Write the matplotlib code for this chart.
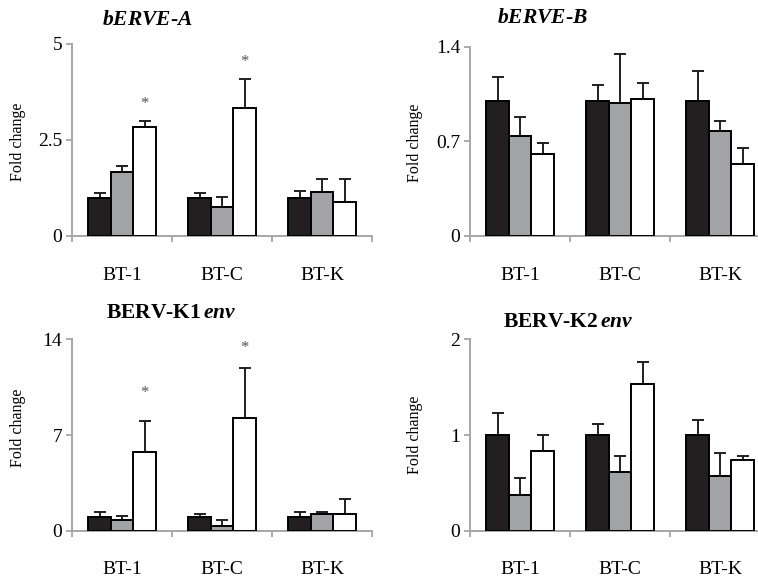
import numpy as np
import matplotlib
matplotlib.use("Agg")
import matplotlib.pyplot as plt

plt.rcParams['font.family'] = ['Liberation Serif', 'DejaVu Serif']
plt.rcParams['mathtext.fontset'] = 'custom'
plt.rcParams['mathtext.it'] = 'Liberation Serif:italic:bold'
plt.rcParams['mathtext.rm'] = 'Liberation Serif:bold'

categories = ["BT-1", "BT-C", "BT-K"]

# fold change per panel: rows = series (black, gray, white), cols = categories
erve_a = [[1.0, 1.0, 1.0], [1.66, 0.75, 1.15], [2.83, 3.34, 0.88]]
erve_a_err = [[0.13, 0.12, 0.18], [0.17, 0.27, 0.33], [0.16, 0.75, 0.60]]
erve_b = [[1.0, 1.0, 1.0], [0.737, 0.986, 0.777], [0.604, 1.011, 0.535]]
erve_b_err = [[0.176, 0.12, 0.22], [0.141, 0.362, 0.074], [0.082, 0.118, 0.118]]
k1 = [[1.0, 1.0, 1.0], [0.78, 0.34, 1.2], [5.76, 8.27, 1.22]]
k1_err = [[0.37, 0.22, 0.37], [0.32, 0.42, 0.14], [2.26, 3.61, 1.12]]
k2 = [[1.0, 1.0, 1.0], [0.373, 0.617, 0.572], [0.836, 1.537, 0.739]]
k2_err = [[0.227, 0.12, 0.157], [0.181, 0.167, 0.237], [0.161, 0.23, 0.039]]

# significance stars: (category index, y value)
stars_a = [(0, 3.44), (1, 4.54)]
stars_k1 = [(0, 10.05), (1, 13.34)]

colors = ["#231f20", "#a2a3a6", "#ffffff"]
axis_gray = "#a6a6a6"

W, H = 758, 577
fig = plt.figure(figsize=(W / 100, H / 100), dpi=100)

panels = [
    # title, vals, errs, ymax, yticks, stars, (left, top, bottom) px, title pos, ylabel pos
    (r"$bERVE$-$A$", erve_a, erve_a_err, 5, [0, 2.5, 5], stars_a, (72, 44, 236), (0.25, 1.125), (-0.153, 0.49)),
    (r"$bERVE$-$B$", erve_b, erve_b_err, 1.4, [0, 0.7, 1.4], [], (470, 46.7, 236), (0.243, 1.15), (-0.157, 0.49)),
    (r"BERV-K1$\,env$", k1, k1_err, 14, [0, 7, 14], stars_k1, (72, 339.3, 530.7), (0.33, 1.135), (-0.153, 0.54)),
    (r"BERV-K2$\,env$", k2, k2_err, 2, [0, 1, 2], [], (470, 339.3, 530.7), (0.327, 1.09), (-0.157, 0.50)),
]

x = np.arange(len(categories))
width = 0.225
offsets = [-width, 0, width]

for title, vals, errs, ymax, yticks, stars, (lpx, tpx, bpx), tpos, lpos in panels:
    ax = fig.add_axes([lpx / W, 1 - bpx / H, 300 / W, (bpx - tpx) / H])
    for i in range(3):
        ax.bar(x + offsets[i], vals[i], width, color=colors[i], edgecolor="black",
               linewidth=1.4, zorder=3)
        ax.errorbar(x + offsets[i], vals[i], yerr=[np.zeros(3), errs[i]], fmt="none",
                    ecolor="#231f20", elinewidth=1.4, capsize=4.5, capthick=1.4, zorder=2)
    for ci, sy in stars:
        ax.text(x[ci] + offsets[2], sy, "*", ha="center", va="center", fontsize=12,
                color="#555555")
    ax.set_xlim(-0.5, 2.5)
    ax.set_ylim(0, ymax)
    ax.set_yticks(yticks)
    ax.set_yticklabels([f"{t:g}" for t in yticks])
    ax.set_xticks(x)
    ax.set_xticklabels(categories)
    ax.set_xticks([-0.5, 0.5, 1.5, 2.5], minor=True)
    ax.tick_params(axis="x", which="major", length=0, pad=22, labelsize=14)
    ax.tick_params(axis="x", which="minor", length=4, width=1.3, color=axis_gray, direction="out")
    ax.tick_params(axis="y", length=4, width=1.3, color=axis_gray, pad=3, labelsize=14)
    for s in ["top", "right"]:
        ax.spines[s].set_visible(False)
    for s in ["left", "bottom"]:
        ax.spines[s].set_color(axis_gray)
        ax.spines[s].set_linewidth(1.4)
    ax.set_ylabel("Fold change", fontsize=11.5)
    ax.yaxis.set_label_coords(*lpos)
    ax.text(tpos[0], tpos[1], title, transform=ax.transAxes, ha="center", va="center",
            fontsize=15.5, fontweight="bold")

fig.savefig("out.png", dpi=100)
